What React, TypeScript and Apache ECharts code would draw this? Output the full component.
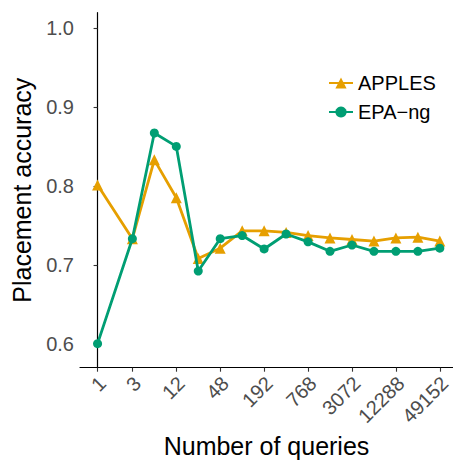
import React, { useEffect, useRef } from "react";
import * as echarts from "echarts";

const queries = [1, 3, 6, 12, 24, 48, 96, 192, 384, 768, 1536, 3072, 6144, 12288, 24576, 49152];
const apples = [0.801, 0.733, 0.833, 0.785, 0.708, 0.721, 0.743, 0.743, 0.741, 0.737, 0.734, 0.732, 0.730, 0.734, 0.735, 0.730];
const epang = [0.600, 0.733, 0.867, 0.850, 0.692, 0.733, 0.737, 0.720, 0.739, 0.729, 0.717, 0.725, 0.717, 0.717, 0.717, 0.721];
const xTickLabels = [1, 3, 12, 48, 192, 768, 3072, 12288, 49152];
const yTicks = [0.6, 0.7, 0.8, 0.9, 1.0];

const FONT = "'Liberation Sans', Arial, Helvetica, sans-serif";

export default function App() {
  const ref = useRef<HTMLDivElement>(null);
  useEffect(() => {
    if (!ref.current) return;
    const chart = echarts.init(ref.current, null, { renderer: "svg" });
    const lx = (q: number) => Math.log2(q);
    chart.setOption({
      animation: false,
      textStyle: { fontFamily: FONT },
      grid: { left: 80, right: 0, top: 12.7, bottom: 92.3, outerBoundsMode: "none" },
      legend: {
        orient: "vertical",
        left: 323,
        top: 68,
        itemWidth: 24,
        itemHeight: 14,
        itemGap: 9,
        textStyle: { fontSize: 20, color: "#000", fontFamily: FONT },
        data: ["APPLES", "EPA\u2212ng"],
      },
      xAxis: {
        type: "value",
        min: lx(1) - 0.8,
        max: lx(49152) + 0.6,
        name: "Number of queries",
        nameLocation: "middle",
        nameGap: 65,
        nameTextStyle: { fontSize: 25, color: "#000", fontFamily: FONT },
        axisLine: { show: true, lineStyle: { color: "#000", width: 1.2 } },
        axisTick: { show: true, length: 4, lineStyle: { color: "#333", width: 1.1 }, customValues: xTickLabels.map(lx) },
        axisLabel: {
          customValues: xTickLabels.map(lx),
          formatter: (v: number) => String(Math.round(Math.pow(2, v))),
          rotate: 45,
          verticalAlign: "top",
          padding: [0, 3, 0, 0],
          fontSize: 20,
          color: "#4D4D4D",
          margin: 3,
          fontFamily: FONT,
        },
        splitLine: { show: false },
      },
      yAxis: {
        type: "value",
        min: 0.5695,
        max: 1.0195,
        name: "Placement accuracy",
        nameLocation: "middle",
        nameGap: 46,
        nameTextStyle: { fontSize: 25, color: "#000", fontFamily: FONT },
        axisLine: { show: true, lineStyle: { color: "#000", width: 1.2 } },
        axisTick: { show: true, length: 4, lineStyle: { color: "#333", width: 1.1 }, customValues: yTicks },
        axisLabel: {
          customValues: yTicks,
          formatter: (v: number) => v.toFixed(1),
          fontSize: 20,
          color: "#4D4D4D",
          margin: 6,
          fontFamily: FONT,
        },
        splitLine: { show: false },
      },
      series: [
        {
          name: "APPLES",
          type: "line",
          data: queries.map((q, i) => [lx(q), apples[i]]),
          symbol: "triangle",
          symbolSize: 11,
          lineStyle: { width: 2.8, color: "#E69F00" },
          itemStyle: { color: "#E69F00" },
          color: "#E69F00",
          z: 2,
        },
        {
          name: "EPA\u2212ng",
          type: "line",
          data: queries.map((q, i) => [lx(q), epang[i]]),
          symbol: "circle",
          symbolSize: 9,
          lineStyle: { width: 2.8, color: "#009E73" },
          itemStyle: { color: "#009E73" },
          color: "#009E73",
          z: 3,
        },
      ],
    });
    return () => chart.dispose();
  }, []);
  return <div ref={ref} style={{ width: 453, height: 460, position: "absolute", left: 0, top: 0 }} />;
}
